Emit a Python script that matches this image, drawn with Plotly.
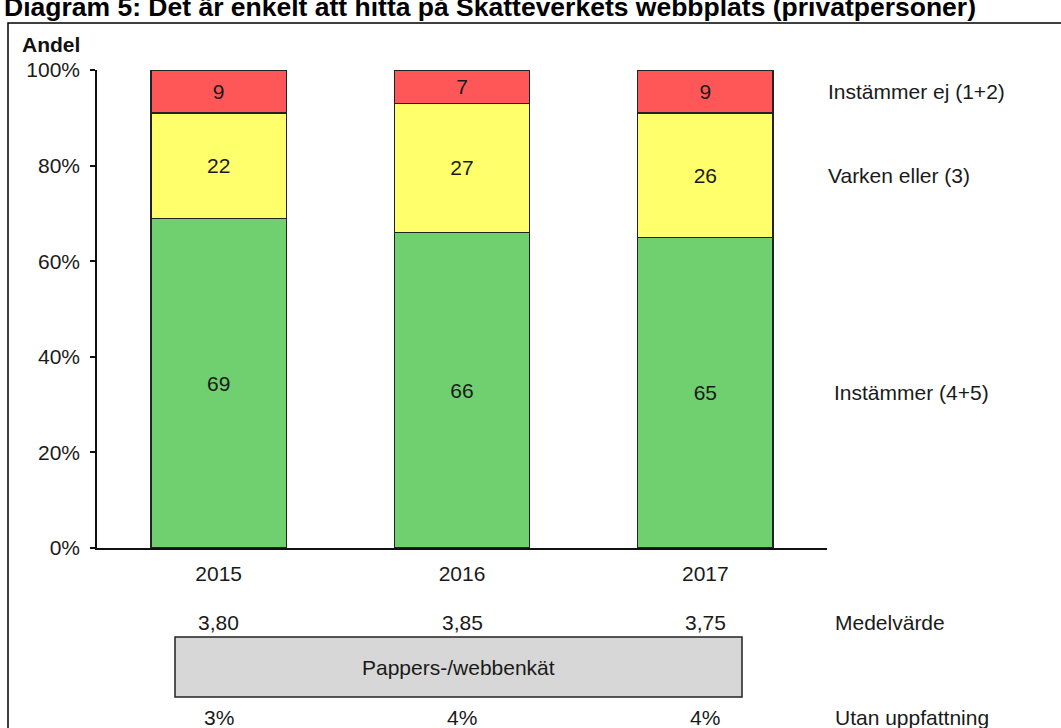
import plotly.graph_objects as go

years = ["2015", "2016", "2017"]
instammer = [69, 66, 65]
varken = [22, 27, 26]
instammer_ej = [9, 7, 9]
medelvarde = ["3,80", "3,85", "3,75"]
utan_uppfattning = ["3%", "4%", "4%"]
series_names = ["Instämmer (4+5)", "Varken eller (3)", "Instämmer ej (1+2)"]
series_colors = ["#70D070", "#FFFF6B", "#FF5757"]
y_ticks = [0, 20, 40, 60, 80, 100]
y_ticktext = ["0%", "20%", "40%", "60%", "80%", "100%"]

W, H = 1061, 728
FONT = "Liberation Sans, Arial, sans-serif"
FS = 21
TXT = "#1a1a1a"

def px_x(p):
    return p / W

def px_y(p):
    return 1 - p / H

fig = go.Figure()
series_vals = [instammer, varken, instammer_ej]
for name, vals, col in zip(series_names, series_vals, series_colors):
    fig.add_trace(go.Bar(
        x=years, y=vals, name=name,
        marker=dict(color=col, line=dict(color="#222222", width=1.3)),
        width=0.555,
        text=[str(v) for v in vals], textposition="inside",
        insidetextanchor="middle", textangle=0,
        textfont=dict(family=FONT, size=FS, color=TXT),
        constraintext="none", hoverinfo="skip",
    ))

annotations = []
base = 0
for name, vals in zip(series_names, series_vals):
    mid = base + vals[-1] / 2
    base += vals[-1]
    xoff = 832 if name.startswith("Instämmer (") else 826
    annotations.append(dict(x=px_x(xoff), xref="paper", y=mid, yref="y",
                            text=name, showarrow=False, xanchor="left",
                            yanchor="middle", font=dict(family=FONT, size=FS, color=TXT)))

for i, m in enumerate(medelvarde):
    annotations.append(dict(x=i, xref="x", y=px_y(622), yref="paper", text=m,
                            showarrow=False, xanchor="center", yanchor="middle",
                            font=dict(family=FONT, size=FS, color=TXT)))
annotations.append(dict(x=px_x(833), xref="paper", y=px_y(622), yref="paper",
                        text="Medelvärde", showarrow=False, xanchor="left",
                        yanchor="middle", font=dict(family=FONT, size=FS, color=TXT)))
for i, u in enumerate(utan_uppfattning):
    annotations.append(dict(x=i, xref="x", y=px_y(717), yref="paper", text=u,
                            showarrow=False, xanchor="center", yanchor="middle",
                            font=dict(family=FONT, size=FS, color=TXT)))
annotations.append(dict(x=px_x(833), xref="paper", y=px_y(717), yref="paper",
                        text="Utan uppfattning", showarrow=False, xanchor="left",
                        yanchor="middle", font=dict(family=FONT, size=FS, color=TXT)))
annotations.append(dict(x=px_x(458), xref="paper", y=px_y(667), yref="paper",
                        text="Pappers-/webbenkät", showarrow=False, xanchor="center",
                        yanchor="middle", font=dict(family=FONT, size=FS, color=TXT)))
annotations.append(dict(x=px_x(20), xref="paper", y=px_y(44), yref="paper",
                        text="<b>Andel</b>", showarrow=False, xanchor="left",
                        yanchor="middle", font=dict(family=FONT, size=FS, color="#111111")))

shapes = [
    dict(type="rect", xref="paper", yref="paper",
         x0=px_x(8), x1=px_x(1066), y0=px_y(736), y1=px_y(23),
         line=dict(color="#000000", width=1.5), fillcolor="rgba(0,0,0,0)", layer="below"),
    dict(type="rect", xref="paper", yref="paper",
         x0=px_x(175), x1=px_x(742), y0=px_y(697), y1=px_y(637),
         line=dict(color="#222222", width=1.5), fillcolor="#D7D7D7", layer="below"),
]

fig.update_layout(
    barmode="stack",
    width=W, height=H,
    margin=dict(l=0, r=0, t=0, b=0, autoexpand=False),
    paper_bgcolor="white", plot_bgcolor="white",
    showlegend=False,
    title=dict(text="<b>Diagram 5: Det är enkelt att hitta på Skatteverkets webbplats (privatpersoner)</b>",
               x=px_x(4), xanchor="left", xref="paper",
               y=px_y(7), yanchor="middle", yref="paper", automargin=False,
               font=dict(family=FONT, size=26.5, color="#000000")),
    font=dict(family=FONT, size=FS, color=TXT),
    xaxis=dict(domain=[px_x(97), px_x(827)], range=[-0.5, 2.5],
               showline=True, linecolor="#111111", linewidth=1.5,
               ticks="", showgrid=False, zeroline=False,
               tickfont=dict(family=FONT, size=FS, color=TXT),
               ticklabelstandoff=6),
    yaxis=dict(domain=[px_y(548), px_y(70)], range=[0, 100],
               tickvals=y_ticks, ticktext=y_ticktext,
               showline=True, linecolor="#111111", linewidth=1.5,
               ticks="outside", ticklen=5, tickcolor="#111111", tickwidth=1.5,
               showgrid=False, zeroline=False,
               tickfont=dict(family=FONT, size=FS, color=TXT),
               ticklabelstandoff=6),
    annotations=annotations,
    shapes=shapes,
)

fig.write_html("out.html", config={"displayModeBar": False},
               post_script="document.body.style.margin='0';document.body.style.overflow='hidden';")
